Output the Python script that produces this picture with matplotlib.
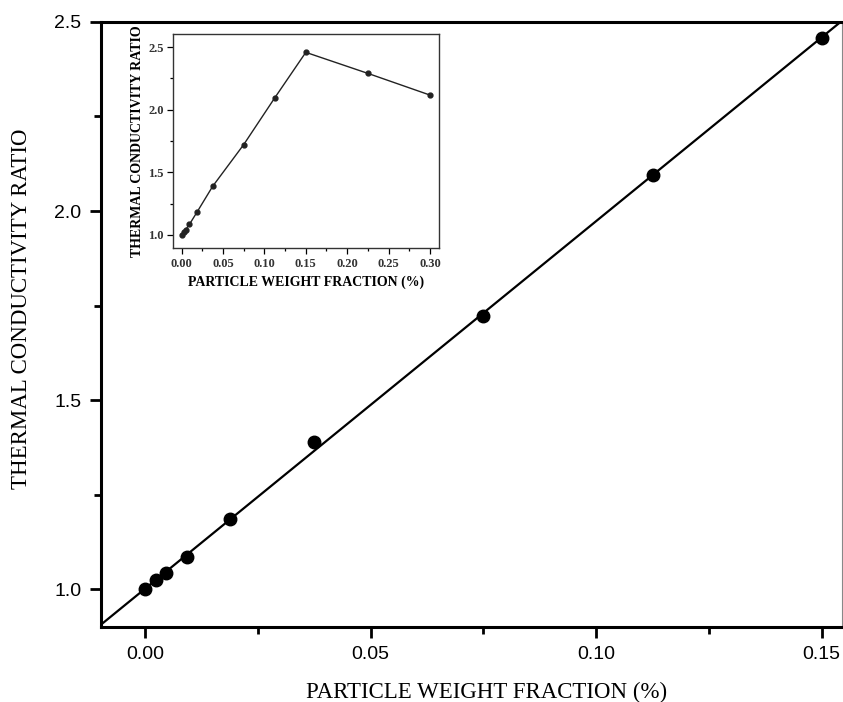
import numpy as np
import matplotlib.pyplot as plt
from matplotlib.ticker import MultipleLocator

# measured data (main plot)
wt_frac = [0.0, 0.00234, 0.00469, 0.00938, 0.01875, 0.0375, 0.075, 0.1125, 0.15]
k_ratio = [1.0, 1.024, 1.042, 1.085, 1.185, 1.389, 1.722, 2.095, 2.458]

# inset: extended range
wt_frac_all = wt_frac + [0.225, 0.30]
k_ratio_all = k_ratio + [2.290, 2.117]

SERIF = ['Liberation Serif', 'DejaVu Serif']
SANS = ['Liberation Sans', 'DejaVu Sans']


def main():
    fig = plt.figure(figsize=(8.43, 7.02), dpi=100)
    ax = fig.add_axes([0.1198, 0.1068, 0.879, 0.862])

    # linear fit through the data
    b, a = np.polyfit(wt_frac, k_ratio, 1)
    xs = np.array([-0.02, 0.17])
    ax.plot(xs, a + b * xs, color='black', lw=1.6, zorder=2)
    ax.plot(wt_frac, k_ratio, 'o', color='black', markersize=9, zorder=3)

    ax.set_xlim(-0.0098, 0.1545)
    ax.set_ylim(0.9, 2.5)
    ax.xaxis.set_major_locator(MultipleLocator(0.05))
    ax.xaxis.set_minor_locator(MultipleLocator(0.025))
    ax.yaxis.set_major_locator(MultipleLocator(0.5))
    ax.yaxis.set_minor_locator(MultipleLocator(0.25))
    ax.xaxis.set_major_formatter(plt.FormatStrFormatter('%.2f'))
    ax.yaxis.set_major_formatter(plt.FormatStrFormatter('%.1f'))
    ax.tick_params(which='both', direction='out', width=2, top=False, right=False)
    ax.tick_params(which='major', length=8, labelsize=14, pad=6)
    ax.tick_params(which='minor', length=5)
    for lbl in ax.get_xticklabels() + ax.get_yticklabels():
        lbl.set_family(SANS)
    for side in ['left', 'bottom', 'top']:
        ax.spines[side].set_linewidth(2.2)
    ax.spines['right'].set_linewidth(0.8)
    ax.spines['right'].set_color('#888888')

    ax.set_xlabel('PARTICLE WEIGHT FRACTION (%)', family=SERIF, fontsize=16.5)
    ax.set_ylabel('THERMAL CONDUCTIVITY RATIO', family=SERIF, fontsize=16.5)
    ax.xaxis.set_label_coords(0.521, -0.091)
    ax.yaxis.set_label_coords(-0.093, 0.526)

    # inset
    ins = fig.add_axes([0.2056, 0.6467, 0.3152, 0.3048])
    ins.plot(wt_frac_all, k_ratio_all, '-o', color='#222222', lw=1.0, markersize=3.5)
    ins.set_xlim(-0.0101, 0.311)
    ins.set_ylim(0.896, 2.604)
    ins.xaxis.set_major_locator(MultipleLocator(0.05))
    ins.xaxis.set_minor_locator(MultipleLocator(0.025))
    ins.yaxis.set_major_locator(MultipleLocator(0.5))
    ins.yaxis.set_minor_locator(MultipleLocator(0.25))
    ins.xaxis.set_major_formatter(plt.FormatStrFormatter('%.2f'))
    ins.yaxis.set_major_formatter(plt.FormatStrFormatter('%.1f'))
    ins.tick_params(which='both', direction='out', width=0.9, top=False, right=False)
    ins.tick_params(which='major', length=4, labelsize=9, pad=3)
    ins.tick_params(which='minor', length=2.5)
    for lbl in ins.get_xticklabels() + ins.get_yticklabels():
        lbl.set_family(SERIF)
        lbl.set_fontweight('bold')
        lbl.set_color('#333333')
    for sp in ins.spines.values():
        sp.set_linewidth(1.0)
        sp.set_color('#333333')
    ins.set_xlabel('PARTICLE WEIGHT FRACTION (%)', family=SERIF, fontsize=10,
                   fontweight='bold', labelpad=4)
    ins.set_ylabel('THERMAL CONDUCTIVITY RATIO', family=SERIF, fontsize=10,
                   fontweight='bold', labelpad=3)

    plt.savefig('out.png', dpi=100)


if __name__ == '__main__':
    main()
